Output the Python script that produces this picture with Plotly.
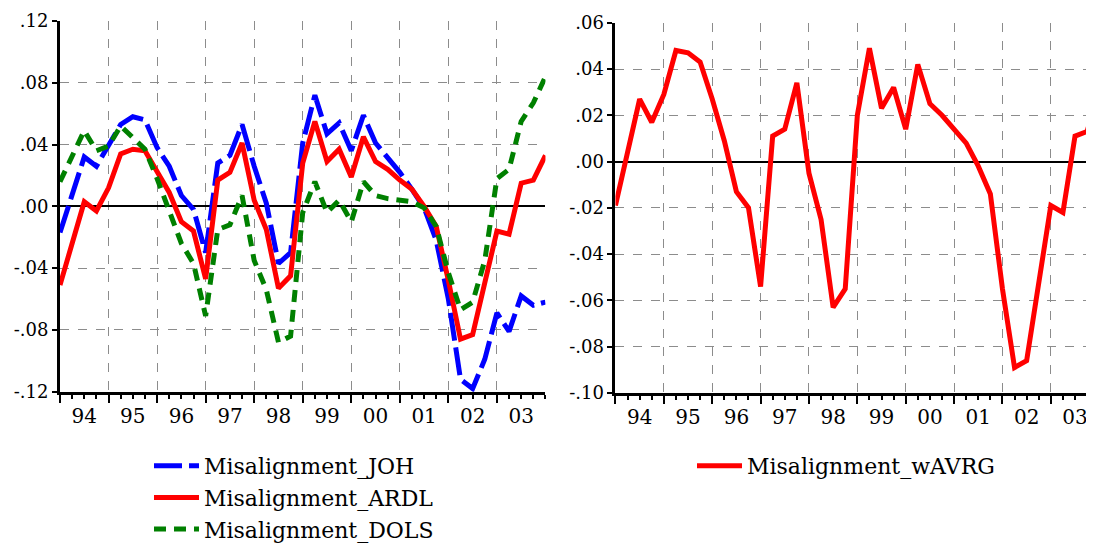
import plotly.graph_objects as go

# ---- data (quarterly, 1994Q1 .. 2004Q1) ----
quarters = list(range(41))  # quarter index from 1994Q1
year_labels = ["94", "95", "96", "97", "98", "99", "00", "01", "02", "03"]

mis_joh = [-0.017, 0.008, 0.032, 0.026, 0.039, 0.053, 0.058, 0.056, 0.038, 0.026,
           0.007, -0.002, -0.030, 0.028, 0.033, 0.053, 0.026, 0.002, -0.037, -0.030,
           0.041, 0.072, 0.047, 0.054, 0.036, 0.059, 0.041, 0.032, 0.022, 0.011,
           -0.001, -0.022, -0.060, -0.112, -0.118, -0.099, -0.069, -0.081, -0.058, -0.064,
           -0.062]
mis_ardl = [-0.051, -0.024, 0.003, -0.003, 0.012, 0.034, 0.037, 0.036, 0.022, 0.009,
            -0.010, -0.016, -0.047, 0.017, 0.022, 0.041, 0.004, -0.015, -0.053, -0.045,
            0.028, 0.055, 0.029, 0.037, 0.019, 0.045, 0.029, 0.024, 0.017, 0.011,
            0.000, -0.013, -0.048, -0.086, -0.083, -0.050, -0.016, -0.018, 0.015, 0.017,
            0.033]
mis_dols = [0.016, 0.032, 0.049, 0.036, 0.039, 0.052, 0.045, 0.037, 0.018, -0.002,
            -0.024, -0.037, -0.071, -0.015, -0.012, 0.007, -0.035, -0.054, -0.088, -0.084,
            -0.004, 0.016, -0.004, 0.004, -0.010, 0.016, 0.007, 0.005, 0.004, 0.003,
            -0.001, -0.013, -0.043, -0.067, -0.062, -0.035, 0.018, 0.024, 0.055, 0.067,
            0.084]
mis_wavrg = [-0.019, 0.004, 0.027, 0.017, 0.029, 0.048, 0.047, 0.043, 0.027, 0.009,
             -0.013, -0.020, -0.054, 0.011, 0.014, 0.034, -0.005, -0.025, -0.063, -0.055,
             0.020, 0.049, 0.023, 0.032, 0.014, 0.042, 0.025, 0.020, 0.014, 0.008,
             -0.002, -0.014, -0.055, -0.089, -0.086, -0.051, -0.019, -0.022, 0.011, 0.013,
             0.031]

left_yticks = [-0.12, -0.08, -0.04, 0.0, 0.04, 0.08, 0.12]
left_ylabels = ["-.12", "-.08", "-.04", ".00", ".04", ".08", ".12"]
right_yticks = [-0.10, -0.08, -0.06, -0.04, -0.02, 0.0, 0.02, 0.04, 0.06]
right_ylabels = ["-.10", "-.08", "-.06", "-.04", "-.02", ".00", ".02", ".04", ".06"]

year_starts = [4 * i for i in range(10)]
year_mids = [4 * i + 2 for i in range(10)]

FONT = "DejaVu Serif, Liberation Serif, serif"
GRID = "#8c8c8c"

# the page adds an 8px body margin, so the figure is 8px smaller
FIG_W, FIG_H = 1086, 537

fig = go.Figure()
fig.add_trace(go.Scatter(x=quarters, y=mis_joh, mode="lines", name="Misalignment_JOH",
                         line=dict(color="#0000FF", width=5, dash="28px,7px"),
                         xaxis="x", yaxis="y", legend="legend"))
fig.add_trace(go.Scatter(x=quarters, y=mis_ardl, mode="lines", name="Misalignment_ARDL",
                         line=dict(color="#FF0000", width=5),
                         xaxis="x", yaxis="y", legend="legend"))
fig.add_trace(go.Scatter(x=quarters, y=mis_dols, mode="lines", name="Misalignment_DOLS",
                         line=dict(color="#008000", width=5, dash="12px,8px"),
                         xaxis="x", yaxis="y", legend="legend"))
fig.add_trace(go.Scatter(x=quarters, y=mis_wavrg, mode="lines", name="Misalignment_wAVRG",
                         line=dict(color="#FF0000", width=5),
                         xaxis="x2", yaxis="y2", legend="legend2"))
# carriers for the year label axes
fig.add_trace(go.Scatter(x=[None], y=[None], xaxis="x3", yaxis="y", showlegend=False, hoverinfo="skip"))
fig.add_trace(go.Scatter(x=[None], y=[None], xaxis="x4", yaxis="y2", showlegend=False, hoverinfo="skip"))

left_dom = [0.0, 0.4695]
right_dom = [0.5372, 1.0]
left_range = [0, 40]
right_range = [0, 39.57]

def grid_xaxis(dom, rng, anchor):
    return dict(domain=dom, range=rng, anchor=anchor, tickmode="array", tickvals=year_starts,
                showticklabels=False, ticks="outside", ticklen=8, tickwidth=1.5, tickcolor="black",
                showgrid=True, gridcolor=GRID, gridwidth=1, griddash="dash",
                showline=True, linecolor="black", linewidth=3, zeroline=False, automargin=False,
                minor=dict(dtick=1, tick0=0, ticks="outside", ticklen=4, tickwidth=1.5,
                           tickcolor="black", showgrid=False))

def label_xaxis(dom, rng, anchor, over):
    return dict(domain=dom, range=rng, anchor=anchor, overlaying=over, side="bottom",
                tickmode="array", tickvals=year_mids, ticktext=year_labels, ticks="",
                ticklabelstandoff=10,
                showgrid=False, showline=False, zeroline=False, automargin=False,
                tickfont=dict(family=FONT, size=20, color="black"))

def yax(dom, rng, vals, labels, anchor):
    return dict(domain=dom, range=rng, anchor=anchor, tickmode="array", tickvals=vals, ticktext=labels,
                ticks="outside", ticklen=5, tickwidth=1.5, tickcolor="black",
                showgrid=True, gridcolor=GRID, gridwidth=1, griddash="dash",
                showline=True, linecolor="black", linewidth=3, automargin=False,
                zeroline=True, zerolinecolor="black", zerolinewidth=1.5,
                tickfont=dict(family=FONT, size=18, color="black"))

fig.update_layout(
    width=FIG_W, height=FIG_H,
    margin=dict(l=52, r=0, t=13, b=152, autoexpand=False),
    paper_bgcolor="white", plot_bgcolor="white",
    font=dict(family=FONT, color="black"),
    xaxis=grid_xaxis(left_dom, left_range, "y"),
    xaxis2=grid_xaxis(right_dom, right_range, "y2"),
    xaxis3=label_xaxis(left_dom, left_range, "y", "x"),
    xaxis4=label_xaxis(right_dom, right_range, "y2", "x2"),
    yaxis=yax([0.0035, 1.0], [-0.12, 0.12], left_yticks, left_ylabels, "x"),
    yaxis2=yax([0.0, 0.9954], [-0.10, 0.06], right_yticks, right_ylabels, "x2"),
    legend=dict(xref="container", yref="container", x=141 / FIG_W, y=1 - 437 / FIG_H,
                xanchor="left", yanchor="top", bgcolor="rgba(0,0,0,0)",
                font=dict(family=FONT, size=22, color="black"), itemwidth=45),
    legend2=dict(xref="container", yref="container", x=684 / FIG_W, y=1 - 437 / FIG_H,
                 xanchor="left", yanchor="top", bgcolor="rgba(0,0,0,0)",
                 font=dict(family=FONT, size=22, color="black"), itemwidth=45),
    showlegend=True,
)

fig.write_html("out.html")
